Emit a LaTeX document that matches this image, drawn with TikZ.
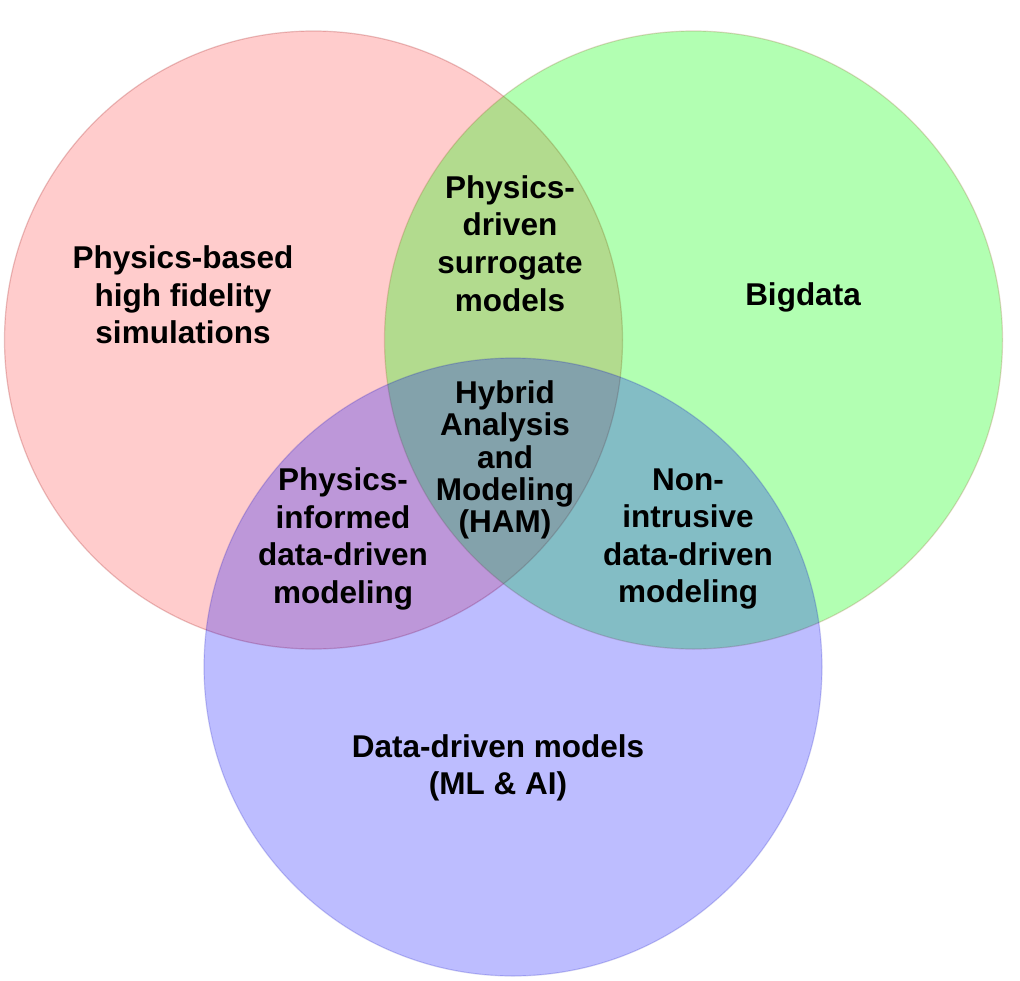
\documentclass[tikz,border=0pt]{standalone}
\usepackage{fontspec}
\setmainfont{Liberation Sans}
\begin{document}
\begin{tikzpicture}[x=1pt,y=-1pt,
  setcircle/.style={line width=1.2pt},
  lbl/.style={align=center, inner sep=0pt, text=black,
    font=\fontsize{31.5}{37.6}\selectfont\bfseries},
  lblham/.style={align=center, inner sep=0pt, text=black,
    font=\fontsize{31.5}{32.3}\selectfont\bfseries}]
\useasboundingbox (0,0) rectangle (1020,980);
\fill[white] (0,0) rectangle (1020,980);
% circles
\path[setcircle, fill=red, fill opacity=0.2, draw=red!60!black, draw opacity=0.22]
  (313.5,340) circle[radius=309pt];
\path[setcircle, fill=green, fill opacity=0.3, draw=brown!80!black, draw opacity=0.25]
  (693.5,340) circle[radius=309pt];
\path[setcircle, fill=blue, fill opacity=0.26, draw=blue!70!black, draw opacity=0.18]
  (513,667) circle[radius=309pt];
% labels
\node[lbl] (pbhf) at (183,295) {Physics-based\\high fidelity\\simulations};
\node[lbl] (pdsm) at (510,243.5) {Physics-\\driven\\surrogate\\models};
\node[lbl] (big) at (803,297) {Bigdata};
\node[lblham] (ham) at (505,460) {Hybrid\\Analysis\\and\\Modeling\\(HAM)};
\node[lbl] (pidd) at (343,539) {Physics-\\informed\\data-driven\\modeling};
\node[lbl] (nidd) at (688,539) {Non-\\intrusive\\data-driven\\modeling};
\node[lbl] (ddm) at (498,768) {Data-driven models\\(ML \& AI)};
\end{tikzpicture}
\end{document}
